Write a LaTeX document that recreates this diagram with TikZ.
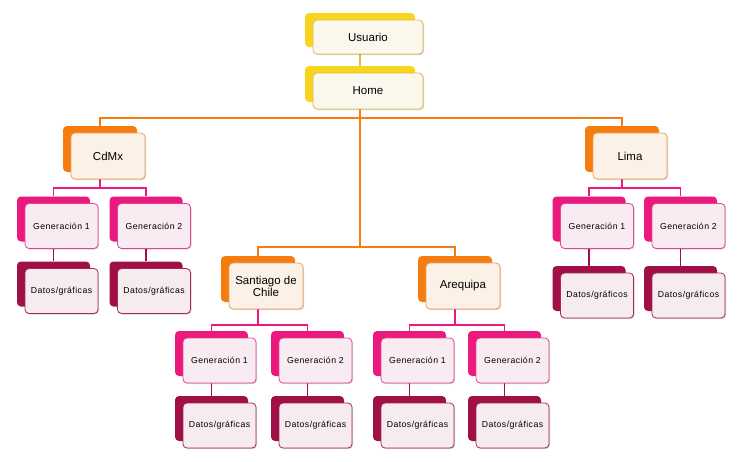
\documentclass[tikz,border=0pt]{standalone}
\usepackage{fontspec}
\setmainfont{Liberation Sans}
\newfontfamily\spacedfont[LetterSpace=5]{Liberation Sans}
\usepackage{tikz}
\usetikzlibrary{shadows}
\usetikzlibrary{backgrounds}
\definecolor{yback}{RGB}{247,212,30}
\definecolor{yfill}{RGB}{250,247,236}
\definecolor{ydraw}{RGB}{228,188,70}
\definecolor{oback}{RGB}{245,125,15}
\definecolor{ofill}{RGB}{251,241,231}
\definecolor{odraw}{RGB}{240,160,90}
\definecolor{pback}{RGB}{235,25,125}
\definecolor{pfill}{RGB}{248,235,242}
\definecolor{pdraw}{RGB}{225,70,150}
\definecolor{mback}{RGB}{160,15,70}
\definecolor{mfill}{RGB}{246,236,240}
\definecolor{mdraw}{RGB}{165,40,85}
\tikzstyle{card}=[rectangle,rounded corners=4pt,inner sep=0pt,line width=0.8pt,align=center]
\tikzstyle{front}=[card,drop shadow={shadow xshift=1pt,shadow yshift=-1pt,fill=black,opacity=0.18}]
\tikzstyle{topback}=[card,fill=yback,minimum width=110pt,minimum height=34pt]
\tikzstyle{topcard}=[front,fill=yfill,draw=ydraw,minimum width=110pt,minimum height=34pt,font=\fontsize{11.5}{13}\selectfont]
\tikzstyle{cityback}=[card,fill=oback,minimum width=74pt,minimum height=46pt]
\tikzstyle{citycard}=[front,fill=ofill,draw=odraw,minimum width=74pt,minimum height=46pt,font=\fontsize{11.5}{12}\selectfont]
\tikzstyle{genback}=[card,fill=pback,minimum width=73pt,minimum height=45pt]
\tikzstyle{gencard}=[front,fill=pfill,draw=pdraw,minimum width=73pt,minimum height=45pt,font=\spacedfont\fontsize{8.7}{10}\selectfont]
\tikzstyle{databack}=[card,fill=mback,minimum width=73pt,minimum height=45pt]
\tikzstyle{datacard}=[front,fill=mfill,draw=mdraw,minimum width=73pt,minimum height=45pt,font=\spacedfont\fontsize{8.7}{10}\selectfont]
\tikzstyle{topline}=[draw=ydraw,line width=1.5pt]
\tikzstyle{cityline}=[draw=oback,line width=1.8pt]
\tikzstyle{genline}=[draw=pback,line width=1.8pt]
\tikzstyle{dataline}=[draw=mback,line width=1.5pt]

\begin{document}
\begin{tikzpicture}[x=1pt, y=-1pt]
    \useasboundingbox (0,0) rectangle (751,461);
    % top
    \node[topback] at (360,30) (usuario) {};
    \node[topcard] at (368,37) (usuario-f) {Usuario};
    \node[topback,minimum height=36pt] at (360,84) (home) {};
    \node[topcard,minimum height=36pt] at (368,91) (home-f) {Home};
    % cities
    \node[cityback] at (100,149) (cdmx) {};
    \node[citycard] at (108,156) (cdmx-f) {CdMx};
    \node[cityback] at (622,149) (lima) {};
    \node[citycard] at (630,156) (lima-f) {Lima};
    \node[cityback] at (258,279) (stgo) {};
    \node[citycard] at (266,286) (stgo-f) {Santiago de\\Chile};
    \node[cityback] at (455,279) (areq) {};
    \node[citycard] at (463,286) (areq-f) {Arequipa};
    % CdMx
    \node[genback] at (53.5,219) (cg1) {};
    \node[gencard] at (61.5,226) (cg1-f) {Generación 1};
    \node[genback] at (146,219) (cg2) {};
    \node[gencard] at (154,226) (cg2-f) {Generación 2};
    \node[databack] at (53.5,284) (cd1) {};
    \node[datacard] at (61.5,291) (cd1-f) {Datos/gráficas};
    \node[databack] at (146,284) (cd2) {};
    \node[datacard] at (154,291) (cd2-f) {Datos/gráficas};
    % Lima
    \node[genback] at (589,219) (lg1) {};
    \node[gencard] at (597,226) (lg1-f) {Generación 1};
    \node[genback] at (680.5,219) (lg2) {};
    \node[gencard] at (688.5,226) (lg2-f) {Generación 2};
    \node[databack] at (589,288.5) (ld1) {};
    \node[datacard] at (597,295.5) (ld1-f) {Datos/gráficos};
    \node[databack] at (680.5,288.5) (ld2) {};
    \node[datacard] at (688.5,295.5) (ld2-f) {Datos/gráficos};
    % Santiago de Chile
    \node[genback] at (211.5,353.5) (sg1) {};
    \node[gencard] at (219.5,360.5) (sg1-f) {Generación 1};
    \node[genback] at (307.5,353.5) (sg2) {};
    \node[gencard] at (315.5,360.5) (sg2-f) {Generación 2};
    \node[databack] at (211.5,418.5) (sd1) {};
    \node[datacard] at (219.5,425.5) (sd1-f) {Datos/gráficas};
    \node[databack] at (307.5,418.5) (sd2) {};
    \node[datacard] at (315.5,425.5) (sd2-f) {Datos/gráficas};
    % Arequipa
    \node[genback] at (409.5,353.5) (ag1) {};
    \node[gencard] at (417.5,360.5) (ag1-f) {Generación 1};
    \node[genback] at (504.5,353.5) (ag2) {};
    \node[gencard] at (512.5,360.5) (ag2-f) {Generación 2};
    \node[databack] at (409.5,418.5) (ad1) {};
    \node[datacard] at (417.5,425.5) (ad1-f) {Datos/gráficas};
    \node[databack] at (504.5,418.5) (ad2) {};
    \node[datacard] at (512.5,425.5) (ad2-f) {Datos/gráficas};
    % connectors
    \coordinate (bus0) at (0,118);
    \coordinate (bus1) at (0,247);
    \coordinate (bus2) at (0,188);
    \coordinate (bus3) at (0,325);
    \begin{scope}[on background layer]
      \draw[topline] (usuario) -- (home);
      \draw[cityline] (home) -- (home |- bus1);
      \draw[cityline] (cdmx) |- (bus0 -| home) -| (lima);
      \draw[cityline] (stgo) |- (bus1 -| home) -| (areq);
      \draw[genline] (cg1) |- (bus2 -| cdmx) -| (cg2);
      \draw[genline] (cdmx) -- (cdmx |- bus2);
      \draw[genline] (lg1) |- (bus2 -| lima) -| (lg2);
      \draw[genline] (lima) -- (lima |- bus2);
      \draw[genline] (sg1) |- (bus3 -| stgo) -| (sg2);
      \draw[genline] (stgo) -- (stgo |- bus3);
      \draw[genline] (ag1) |- (bus3 -| areq) -| (ag2);
      \draw[genline] (areq) -- (areq |- bus3);
      \draw[dataline] (cg1) -- (cd1);
      \draw[dataline] (cg2) -- (cd2);
      \draw[dataline] (lg1) -- (ld1);
      \draw[dataline] (lg2) -- (ld2);
      \draw[dataline] (sg1) -- (sd1);
      \draw[dataline] (sg2) -- (sd2);
      \draw[dataline] (ag1) -- (ad1);
      \draw[dataline] (ag2) -- (ad2);
    \end{scope}
  \end{tikzpicture}
\end{document}
